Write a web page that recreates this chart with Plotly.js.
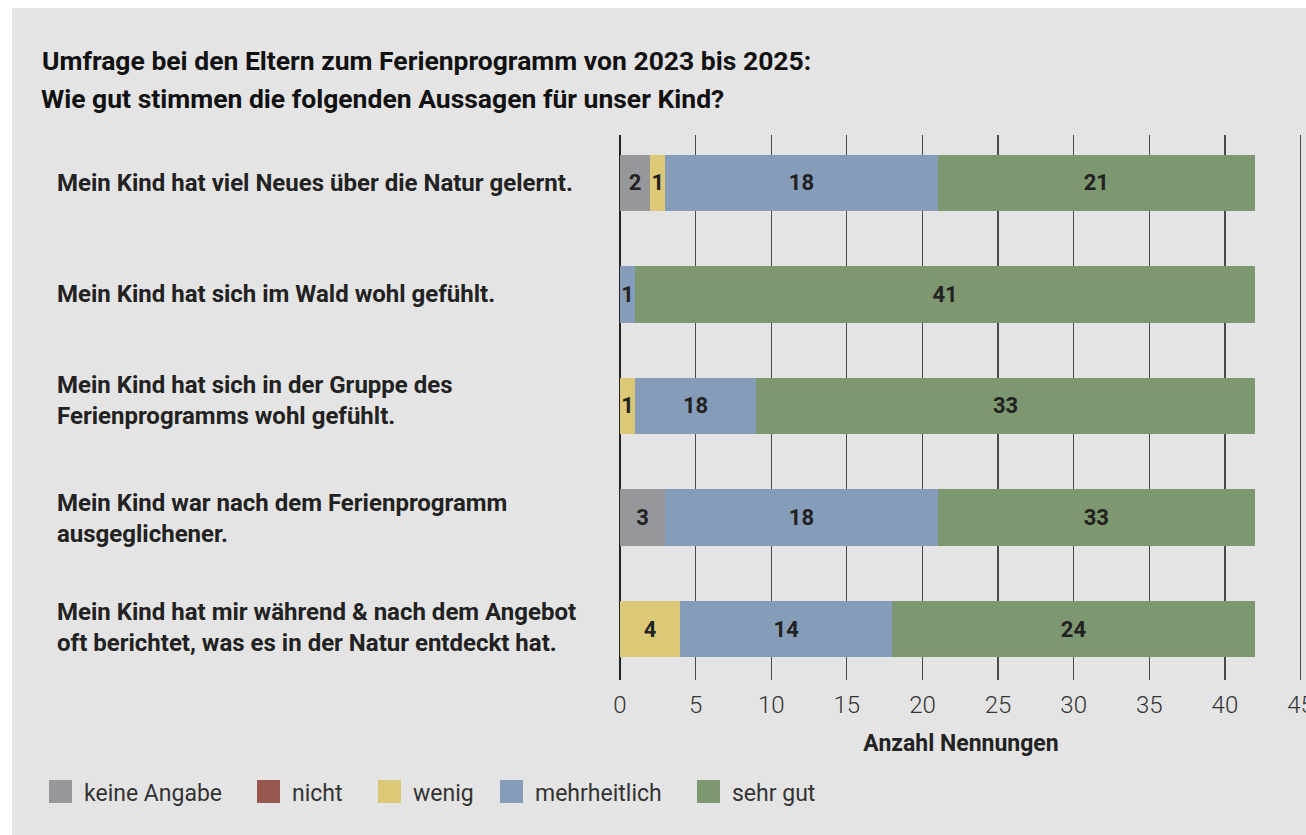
<!DOCTYPE html>
<html>
<head>
<meta charset="utf-8">
<script src="https://cdn.plot.ly/plotly-3.0.1.min.js"></script>
<style>
  html, body { margin: 0; padding: 0; background: #ffffff; width: 1306px; height: 835px; overflow: hidden; }
  #chart { position: absolute; left: 12px; top: 8px; width: 1294px; height: 827px; }
</style>
</head>
<body>
<div id="chart"></div>
<script>
// ---- data ----
const titleLine1 = "Umfrage bei den Eltern zum Ferienprogramm von 2023 bis 2025:";
const titleLine2 = "Wie gut stimmen die folgenden Aussagen für unser Kind?";
const categories = [
  "Mein Kind hat viel Neues über die Natur gelernt.",
  "Mein Kind hat sich im Wald wohl gefühlt.",
  "Mein Kind hat sich in der Gruppe des<br>Ferienprogramms wohl gefühlt.",
  "Mein Kind war nach dem Ferienprogramm<br>ausgeglichener.",
  "Mein Kind hat mir während & nach dem Angebot<br>oft berichtet, was es in der Natur entdeckt hat."
];
const seriesNames = ["keine Angabe", "nicht", "wenig", "mehrheitlich", "sehr gut"];
// bar lengths as drawn in the picture
const keineAngabe  = [2, 0, 0, 3, 0];
const nicht        = [0, 0, 0, 0, 0];
const wenig        = [1, 0, 1, 0, 4];
const mehrheitlich = [18, 1, 8, 18, 14];
const sehrGut      = [21, 41, 33, 21, 24];
// numbers printed on the bars
const keineAngabeLabels  = [2, 0, 0, 3, 0];
const nichtLabels        = [0, 0, 0, 0, 0];
const wenigLabels        = [1, 0, 1, 0, 4];
const mehrheitlichLabels = [18, 1, 18, 18, 14];
const sehrGutLabels      = [21, 41, 33, 33, 24];
const xAxisTitle = "Anzahl Nennungen";
const xTickValues = [0, 5, 10, 15, 20, 25, 30, 35, 40, 45];

// ---- styles ----
const colors = ["#96979b", "#96574e", "#dbc978", "#869db9", "#7d9770"];
const bg = "#e4e4e4";
const ink = "#222222";
const FONT = "Roboto, 'DejaVu Sans', sans-serif";

const values = [keineAngabe, nicht, wenig, mehrheitlich, sehrGut];
const labels = [keineAngabeLabels, nichtLabels, wenigLabels, mehrheitlichLabels, sehrGutLabels];
const yIdx = categories.map((_, i) => i);

const traces = seriesNames.map((name, s) => ({
  type: "bar",
  orientation: "h",
  name: name,
  y: yIdx,
  x: values[s],
  width: 0.51,
  marker: { color: colors[s], line: { width: 0 } },
  text: labels[s].map(v => v > 0 ? String(v) : ""),
  textposition: "inside",
  insidetextanchor: "middle",
  textangle: 0,
  constraintext: "none",
  textfont: { family: FONT, size: 22, color: ink, weight: 700 },
  hoverinfo: "name+x",
  showlegend: false
}));

// plot geometry helpers (page pixels -> paper coords)
const XMAX = 45.1;
const PL = 620, PW = Math.round(XMAX * 15.125), PB = 680, PH = 545;
const px = p => (p - PL) / PW;
const py = p => (PB - p) / PH;

const annotations = [];
const labelYShift = [0, 0, 5, -1, 2];
categories.forEach((c, i) => {
  annotations.push({
    text: c, xref: "paper", yref: "y", x: px(55), y: i, yshift: labelYShift[i],
    xanchor: "left", yanchor: "middle", align: "left", showarrow: false,
    font: { family: FONT, size: 24, color: ink, weight: 700 }
  });
});
annotations.push({
  text: titleLine2, xref: "paper", yref: "paper", x: px(39), y: py(98),
  xanchor: "left", yanchor: "middle", align: "left", showarrow: false,
  font: { family: FONT, size: 26.5, color: "#111", weight: 700 }
});

// custom legend (swatches sized like the reference)
const legendSwatchLeft = [49, 257, 378, 500, 697];
const shapes = [];
seriesNames.forEach((n, s) => {
  const l = legendSwatchLeft[s];
  shapes.push({
    type: "rect", xref: "paper", yref: "paper",
    x0: px(l), x1: px(l + 23), y0: py(803), y1: py(780),
    fillcolor: colors[s], line: { width: 0 }
  });
  annotations.push({
    text: n, xref: "paper", yref: "paper", x: px(l + 33), y: py(793),
    xanchor: "left", yanchor: "middle", showarrow: false,
    font: { family: FONT, size: 23, color: "#333" }
  });
});

const layout = {
  width: 1294, height: 827,
  paper_bgcolor: bg, plot_bgcolor: bg,
  margin: { l: 608, r: 1294 - 608 - PW, t: 127, b: 155, pad: 0 },
  barmode: "stack",
  bargap: 0.49,
  showlegend: false,
  title: {
    text: titleLine1, xref: "container", yref: "container",
    x: 30 / 1294, xanchor: "left", y: 1 - 53 / 827, yanchor: "middle",
    font: { family: FONT, size: 26.5, color: "#111", weight: 700 }
  },
  uniformtext: { mode: "show", minsize: 22 },
  xaxis: {
    range: [0, XMAX], tickvals: xTickValues, ticktext: xTickValues.map(String),
    showgrid: true, gridcolor: "#4a4a4a", gridwidth: 1.3,
    zeroline: true, zerolinecolor: "#222", zerolinewidth: 1.6,
    showline: false, ticks: "", ticklabelstandoff: 8, ticklabeloverflow: "allow",
    tickfont: { family: FONT, size: 24, color: "#333", weight: 300 },
    title: { text: xAxisTitle, standoff: 16, font: { family: FONT, size: 23, color: ink, weight: 700 } },
    fixedrange: true
  },
  yaxis: {
    range: [4.457, -0.43], showticklabels: false, showgrid: false, zeroline: false,
    showline: false, ticks: "", fixedrange: true
  },
  annotations: annotations,
  shapes: shapes,
  font: { family: FONT }
};

Plotly.newPlot("chart", traces, layout, { displayModeBar: false, staticPlot: true });
</script>
</body>
</html>
